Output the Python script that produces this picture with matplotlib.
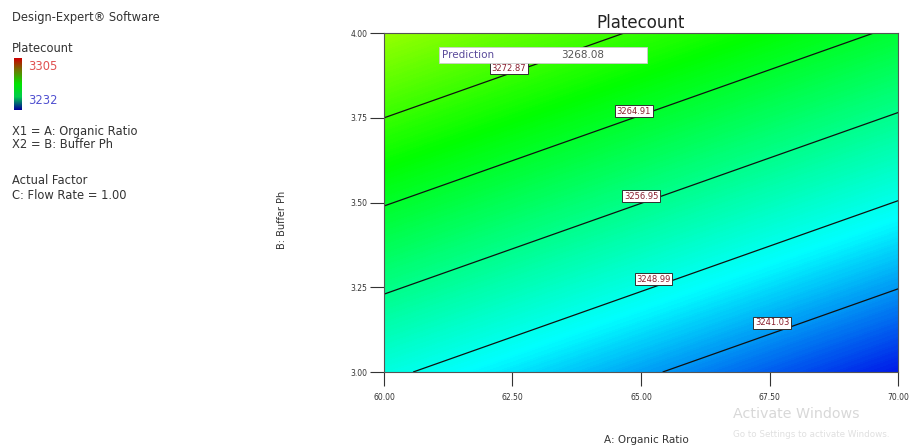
import numpy as np
import matplotlib
matplotlib.use("Agg")
import matplotlib.pyplot as plt
from matplotlib.colors import LinearSegmentedColormap, Normalize
from matplotlib.patches import Rectangle

# ---- data ----
organic_ratio = [60.0, 70.0]          # A: Organic Ratio (x)
buffer_ph = [3.0, 4.0]                # B: Buffer Ph (y)
# Platecount at the grid corners, rows = buffer_ph, cols = organic_ratio
platecount = [[3249.92, 3233.52],
              [3280.52, 3264.12]]
contour_levels = [3241.03, 3248.99, 3256.95, 3264.91, 3272.87]
label_x = [67.55, 65.24, 65.0, 64.86, 62.43]
label_y = [3.145, 3.274, 3.519, 3.770, 3.897]
color_range = [3232, 3305]
x_ticks = [60.0, 62.5, 65.0, 67.5, 70.0]
y_ticks = [3.00, 3.25, 3.50, 3.75, 4.00]
prediction_value = 3268.08

fig = plt.figure(figsize=(9.23, 4.48), dpi=100)
fig.patch.set_facecolor("white")
ax = fig.add_axes([0.416, 0.1696, 0.557, 0.7564])

cmap = LinearSegmentedColormap.from_list(
    "dx", [(0.0, (0, 0, 0.90)), (0.21, (0, 1, 1)), (0.5, (0, 1, 0)),
           (0.78, (1, 1, 0)), (1.0, (1, 0, 0))])
norm = Normalize(vmin=color_range[0], vmax=color_range[1])

X, Y = np.meshgrid(organic_ratio, buffer_ph)
Z = np.array(platecount)
fill_levels = np.linspace(color_range[0], color_range[1], 400)
ax.contourf(X, Y, Z, levels=fill_levels, cmap=cmap, norm=norm, antialiased=False)
ax.contour(X, Y, Z, levels=contour_levels, colors="#101010", linewidths=0.9)
for lv, lx, ly in zip(contour_levels, label_x, label_y):
    ax.text(lx, ly, f"{lv:.2f}", fontsize=6, color="#8a2030", ha="center", va="center",
            bbox=dict(facecolor="white", edgecolor="#303030", boxstyle="square,pad=0.18", linewidth=0.7))

ax.set_xlim(organic_ratio[0], organic_ratio[1])
ax.set_ylim(buffer_ph[0], buffer_ph[1])
ax.set_xticks(x_ticks)
ax.set_xticklabels([f"{v:.2f}" for v in x_ticks])
ax.set_yticks(y_ticks)
ax.set_yticklabels([f"{v:.2f}" for v in y_ticks])
ax.tick_params(axis="both", direction="out", length=10, width=0.8, labelsize=5.5, colors="#333333", pad=2)
ax.tick_params(axis="x", pad=5)
for s in ax.spines.values():
    s.set_color("#555555")
    s.set_linewidth(0.8)

ax.set_title("Platecount", fontsize=12, color="#222222", pad=4)
ax.set_xlabel("A: Organic Ratio", fontsize=7.5, color="#333333")
ax.set_ylabel("B: Buffer Ph", fontsize=7, color="#333333")
ax.xaxis.set_label_coords(0.51, -0.185)
ax.yaxis.set_label_coords(-0.188, 0.45)

# prediction flag box
ax.add_patch(Rectangle((0.107, 0.9115), 0.405, 0.047, transform=ax.transAxes,
                       facecolor="white", edgecolor="#cccccc", linewidth=0.6, zorder=5))
ax.text(0.113, 0.935, "Prediction", transform=ax.transAxes, fontsize=7.5,
        color="#5a4a9a", va="center", ha="left", zorder=6)
ax.text(0.345, 0.935, f"{prediction_value:.2f}", transform=ax.transAxes, fontsize=7.5,
        color="#555555", va="center", ha="left", zorder=6)

# left info panel
fs = 8.3
fig.text(12 / 923, 1 - 18 / 448, "Design-Expert® Software", fontsize=fs, color="#333333", va="center")
fig.text(12 / 923, 1 - 48 / 448, "Platecount", fontsize=fs, color="#333333", va="center")
cax = fig.add_axes([14 / 923, 1 - 110 / 448, 8 / 923, 52 / 448])
cax.imshow(np.linspace(1, 0, 100)[:, None], aspect="auto",
           cmap=LinearSegmentedColormap.from_list("bar", [(0, 0, 0.6), (0, 0.8, 0.3), (0, 0.9, 0), (0.4, 0.5, 0), (0.8, 0, 0)]))
cax.set_xticks([]); cax.set_yticks([])
for s in cax.spines.values():
    s.set_visible(False)
fig.text(28 / 923, 1 - 66 / 448, f"{color_range[1]}", fontsize=fs, color="#e05050", va="center")
fig.text(28 / 923, 1 - 100 / 448, f"{color_range[0]}", fontsize=fs, color="#5050d0", va="center")
fig.text(12 / 923, 1 - 131 / 448, "X1 = A: Organic Ratio", fontsize=fs, color="#333333", va="center")
fig.text(12 / 923, 1 - 145 / 448, "X2 = B: Buffer Ph", fontsize=fs, color="#333333", va="center")
fig.text(12 / 923, 1 - 180 / 448, "Actual Factor", fontsize=fs, color="#333333", va="center")
fig.text(12 / 923, 1 - 195 / 448, "C: Flow Rate = 1.00", fontsize=fs, color="#333333", va="center")

# watermark
fig.text(733 / 923, 1 - 414 / 448, "Activate Windows", fontsize=10.3, color="#d8d8d8", va="center")
fig.text(733 / 923, 1 - 434 / 448, "Go to Settings to activate Windows.", fontsize=6.3, color="#e0e0e0", va="center")

fig.savefig("out.png", dpi=100, facecolor="white")
